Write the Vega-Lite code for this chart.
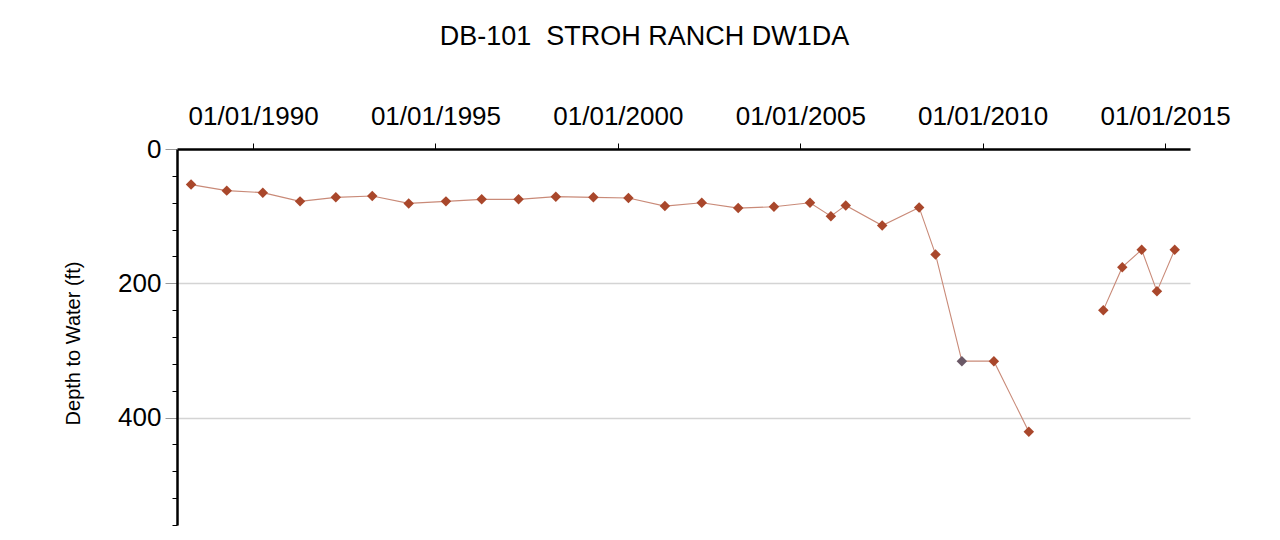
{
  "$schema": "https://vega.github.io/schema/vega-lite/v6.json",
  "width": 1013,
  "height": 376,
  "autosize": {"type": "none"},
  "padding": {"left": 177, "top": 149, "right": 90, "bottom": 15},
  "background": "white",
  "config": {
    "view": {"stroke": null},
    "font": "Liberation Sans"
  },
  "title": {
    "text": "DB-101\u00a0 STROH RANCH DW1DA",
    "fontSize": 27,
    "fontWeight": "normal",
    "color": "#000000",
    "font": "Liberation Sans",
    "anchor": "middle",
    "dx": -39,
    "offset": 52
  },
  "data": {
    "values": [
      {"date": "1988-04-20", "depth": 53, "segment": 1, "status": "A"},
      {"date": "1989-04-12", "depth": 62, "segment": 1, "status": "A"},
      {"date": "1990-04-08", "depth": 65, "segment": 1, "status": "A"},
      {"date": "1991-04-16", "depth": 78, "segment": 1, "status": "A"},
      {"date": "1992-04-08", "depth": 72, "segment": 1, "status": "A"},
      {"date": "1993-04-08", "depth": 70, "segment": 1, "status": "A"},
      {"date": "1994-04-08", "depth": 81, "segment": 1, "status": "A"},
      {"date": "1995-04-16", "depth": 78, "segment": 1, "status": "A"},
      {"date": "1996-04-08", "depth": 75, "segment": 1, "status": "A"},
      {"date": "1997-04-12", "depth": 75, "segment": 1, "status": "A"},
      {"date": "1998-04-20", "depth": 71, "segment": 1, "status": "A"},
      {"date": "1999-05-01", "depth": 72, "segment": 1, "status": "A"},
      {"date": "2000-04-16", "depth": 73, "segment": 1, "status": "A"},
      {"date": "2001-04-16", "depth": 85, "segment": 1, "status": "A"},
      {"date": "2002-04-20", "depth": 80, "segment": 1, "status": "A"},
      {"date": "2003-04-20", "depth": 88, "segment": 1, "status": "A"},
      {"date": "2004-04-12", "depth": 86, "segment": 1, "status": "A"},
      {"date": "2005-04-08", "depth": 80, "segment": 1, "status": "A"},
      {"date": "2005-11-03", "depth": 100, "segment": 1, "status": "A"},
      {"date": "2006-04-01", "depth": 84, "segment": 1, "status": "A"},
      {"date": "2007-04-01", "depth": 114, "segment": 1, "status": "A"},
      {"date": "2008-04-05", "depth": 87, "segment": 1, "status": "A"},
      {"date": "2008-09-16", "depth": 157, "segment": 1, "status": "A"},
      {"date": "2009-06-07", "depth": 316, "segment": 1, "status": "B"},
      {"date": "2010-04-23", "depth": 316, "segment": 1, "status": "A"},
      {"date": "2011-04-08", "depth": 421, "segment": 1, "status": "A"},
      {"date": "2013-04-23", "depth": 240, "segment": 2, "status": "A"},
      {"date": "2013-10-30", "depth": 176, "segment": 2, "status": "A"},
      {"date": "2014-05-12", "depth": 150, "segment": 2, "status": "A"},
      {"date": "2014-10-12", "depth": 212, "segment": 2, "status": "A"},
      {"date": "2015-04-08", "depth": 150, "segment": 2, "status": "A"}
    ]
  },
  "encoding": {
    "x": {
      "field": "date",
      "type": "temporal",
      "scale": {"domain": ["1987-12-01", "2015-09-08"]},
      "axis": {
        "orient": "top",
        "title": null,
        "values": ["1990-01-01", "1995-01-01", "2000-01-01", "2005-01-01", "2010-01-01", "2015-01-01"],
        "format": "%m/%d/%Y",
        "labelFontSize": 26,
        "labelFont": "Liberation Sans",
        "labelColor": "#000000",
        "labelPadding": 14,
        "tickSize": 6,
        "tickColor": "#000000",
        "tickWidth": 1,
        "domainColor": "#000000",
        "domainWidth": 2.5,
        "grid": false,
        "labelFlush": false,
        "labelOverlap": false
      }
    },
    "y": {
      "field": "depth",
      "type": "quantitative",
      "scale": {"domain": [0, 560], "reverse": true, "nice": false, "zero": true},
      "axis": {
        "orient": "left",
        "title": "Depth to Water (ft)",
        "titleFontSize": 20,
        "titleFontWeight": "normal",
        "titleFont": "Liberation Sans",
        "titleColor": "#000000",
        "titlePadding": 34,
        "titleY": 194,
        "values": [0, 40, 80, 120, 160, 200, 240, 280, 320, 360, 400, 440, 480, 520, 560],
        "labelExpr": "datum.value % 200 === 0 ? datum.label : ''",
        "labelFontSize": 26,
        "labelFont": "Liberation Sans",
        "labelColor": "#000000",
        "labelPadding": 4,
        "tickSize": {"condition": {"test": "datum.value % 200 === 0", "value": 12}, "value": 5},
        "tickColor": {"condition": {"test": "datum.value % 200 === 0", "value": "#999999"}, "value": "#000000"},
        "tickWidth": 1,
        "domainColor": "#000000",
        "domainWidth": 2.5,
        "grid": true,
        "gridColor": "#d4d4d4",
        "gridWidth": 1.5,
        "gridOpacity": {"condition": {"test": "datum.value === 200 || datum.value === 400", "value": 1}, "value": 0},
        "labelOverlap": false,
        "labelFlush": false
      }
    }
  },
  "layer": [
    {
      "mark": {"type": "line", "color": "#c98a78", "strokeWidth": 1.1},
      "encoding": {"detail": {"field": "segment", "type": "nominal"}}
    },
    {
      "mark": {"type": "point", "shape": "diamond", "filled": true, "size": 110, "opacity": 1},
      "encoding": {
        "color": {
          "field": "status",
          "type": "nominal",
          "scale": {"domain": ["A", "B"], "range": ["#a9472b", "#6a5866"]},
          "legend": null
        }
      }
    }
  ]
}
